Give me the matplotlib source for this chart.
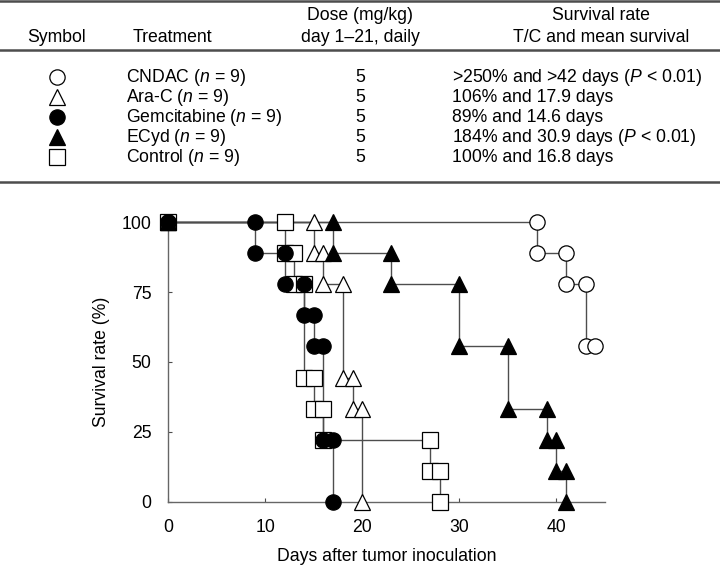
import matplotlib
matplotlib.use('Agg')
import matplotlib.pyplot as plt
from matplotlib.lines import Line2D

plt.rcParams['font.family'] = ['Liberation Sans', 'DejaVu Sans']
plt.rcParams['mathtext.fontset'] = 'custom'
plt.rcParams['mathtext.rm'] = 'Liberation Sans'
plt.rcParams['mathtext.it'] = 'Liberation Sans:italic'

# step points (day, survival %) for each group, n = 9
cndac_days = [0, 38, 38, 41, 41, 43, 43, 44]
cndac_surv = [100, 100, 88.9, 88.9, 77.8, 77.8, 55.6, 55.6]

arac_days = [0, 15, 15, 16, 16, 18, 18, 19, 19, 20, 20]
arac_surv = [100, 100, 88.9, 88.9, 77.8, 77.8, 44.4, 44.4, 33.3, 33.3, 0]

gem_days = [0, 9, 9, 12, 12, 14, 14, 15, 15, 16, 16, 17, 17]
gem_surv = [100, 100, 88.9, 88.9, 77.8, 77.8, 66.7, 66.7, 55.6, 55.6, 22.2, 22.2, 0]

ecyd_days = [0, 17, 17, 23, 23, 30, 30, 35, 35, 39, 39, 40, 40, 41, 41]
ecyd_surv = [100, 100, 88.9, 88.9, 77.8, 77.8, 55.6, 55.6, 33.3, 33.3, 22.2, 22.2, 11.1, 11.1, 0]

ctrl_days = [0, 12, 12, 13, 13, 14, 14, 15, 15, 16, 16, 27, 27, 28, 28]
ctrl_surv = [100, 100, 88.9, 88.9, 77.8, 77.8, 44.4, 44.4, 33.3, 33.3, 22.2, 22.2, 11.1, 11.1, 0]

treatments = ['CNDAC ($n$ = 9)', 'Ara-C ($n$ = 9)', 'Gemcitabine ($n$ = 9)',
              'ECyd ($n$ = 9)', 'Control ($n$ = 9)']
doses = ['5', '5', '5', '5', '5']
results = ['>250% and >42 days ($P$ < 0.01)', '106% and 17.9 days',
           '89% and 14.6 days', '184% and 30.9 days ($P$ < 0.01)',
           '100% and 16.8 days']
# marker, face colour
symbols = [('o', 'white'), ('^', 'white'), ('o', 'black'), ('^', 'black'), ('s', 'white')]

W, H = 720, 565
fig = plt.figure(figsize=(7.2, 5.65), dpi=100)

def fx(px):
    return px / W

def fy(py):
    return 1 - py / H

fs = 12.7
# table
for y in [1, 50, 182]:
    fig.add_artist(Line2D([0, 1], [fy(y), fy(y)], color='0.3', lw=1.8))

fig.text(fx(57), fy(38), 'Symbol', ha='center', va='center', fontsize=fs)
fig.text(fx(172), fy(38), 'Treatment', ha='center', va='center', fontsize=fs)
fig.text(fx(360), fy(15), 'Dose (mg/kg)', ha='center', va='center', fontsize=fs)
fig.text(fx(360), fy(38), 'day 1\u201321, daily', ha='center', va='center', fontsize=fs)
fig.text(fx(601), fy(15), 'Survival rate', ha='center', va='center', fontsize=fs)
fig.text(fx(601), fy(38), 'T/C and mean survival', ha='center', va='center', fontsize=fs)

row_y = [77, 97, 117, 137, 157]
for i in range(5):
    m, fc = symbols[i]
    fig.add_artist(Line2D([fx(57)], [fy(row_y[i])], marker=m, markersize=11,
                          markerfacecolor=fc, markeredgecolor='black',
                          markeredgewidth=0.9, linestyle='none'))
    fig.text(fx(126), fy(row_y[i]), treatments[i], ha='left', va='center', fontsize=fs)
    fig.text(fx(360), fy(row_y[i]), doses[i], ha='center', va='center', fontsize=fs)
    fig.text(fx(452), fy(row_y[i]), results[i], ha='left', va='center', fontsize=fs)

# survival plot
ax = fig.add_axes([fx(168), fy(502), fx(605) - fx(168), fy(222) - fy(502)])

groups = [
    (ctrl_days, ctrl_surv, 's', 'white'),
    (arac_days, arac_surv, '^', 'white'),
    (ecyd_days, ecyd_surv, '^', 'black'),
    (cndac_days, cndac_surv, 'o', 'white'),
    (gem_days, gem_surv, 'o', 'black'),
]
for days, surv, m, fc in groups:
    ax.plot(days, surv, color='0.3', lw=1.0, zorder=2, clip_on=False)
    ax.plot(days, surv, linestyle='none', marker=m, markersize=11,
            markerfacecolor=fc, markeredgecolor='black', markeredgewidth=0.9,
            zorder=3, clip_on=False)

ax.set_xlim(0, 45)
ax.set_ylim(0, 100)
ax.set_xticks([0, 10, 20, 30, 40])
ax.set_yticks([0, 25, 50, 75, 100])
ax.tick_params(direction='in', length=3, width=0.8, color='0.3', pad=12, labelsize=fs)
for s in ['top', 'right']:
    ax.spines[s].set_visible(False)
for s in ['left', 'bottom']:
    ax.spines[s].set_color('0.4')
    ax.spines[s].set_linewidth(1.0)
ax.set_xlabel('Days after tumor inoculation', fontsize=fs, labelpad=9)
ax.set_ylabel('Survival rate (%)', fontsize=fs, labelpad=8)

fig.savefig('out.png', dpi=100)
